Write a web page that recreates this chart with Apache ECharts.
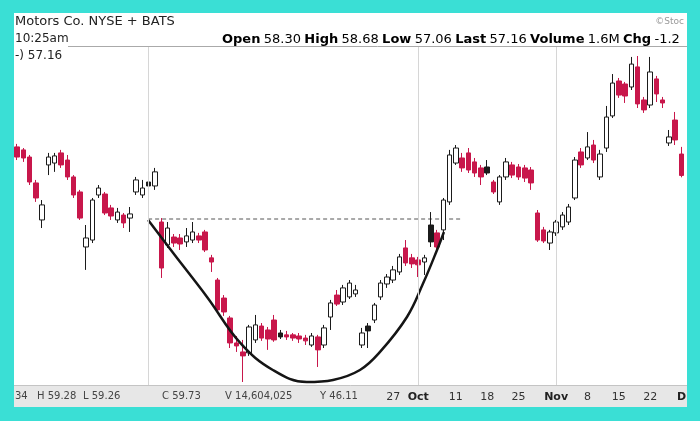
<!DOCTYPE html>
<html><head><meta charset="utf-8">
<script src="https://cdn.jsdelivr.net/npm/echarts/dist/echarts.min.js"></script>
<style>html,body{margin:0;padding:0;background:#3ADFD5;}#c{width:700px;height:421px;}</style>
</head><body><div id="c"></div>
<script>
// [open, close, low, high]
const candles = [
[58.68,58.14,57.98,58.84],[58.52,58.09,57.88,58.62],[58.14,56.81,56.65,58.25],[56.76,55.96,55.75,56.92],
[54.79,55.59,54.36,55.85],[57.72,58.14,57.18,58.36],[57.82,58.20,57.35,58.36],[58.36,57.72,57.56,58.52],
[57.98,57.08,56.92,58.25],[57.08,56.12,55.96,57.18],[56.28,54.89,54.79,56.39],[53.35,53.83,52.13,54.52],
[53.72,55.85,53.56,55.96],[56.12,56.49,55.96,56.65],[56.17,55.16,55.05,56.28],[55.43,55.00,54.79,55.59],
[54.79,55.21,54.63,55.43],[55.05,54.63,54.36,55.16],[54.89,55.11,54.15,55.48],[56.28,56.92,56.12,57.08],
[56.12,56.49,55.96,56.92],[56.81,56.60,56.12,57.98],[56.60,57.35,56.39,57.56],[54.68,52.23,51.70,54.89],
[53.46,54.36,53.30,54.68],[53.88,53.56,53.35,54.04],[53.83,53.51,53.19,54.04],[53.62,53.94,53.35,54.36],
[53.72,54.15,53.56,54.68],[53.94,53.72,53.56,54.10],[54.15,53.19,53.08,54.26],[52.77,52.55,52.02,52.93],
[51.59,50.00,49.89,51.70],[50.63,49.89,49.68,50.79],[49.57,48.24,47.97,49.68],[48.24,48.08,47.76,48.61],
[47.76,47.55,46.16,48.40],[47.71,49.09,47.55,49.20],[48.40,49.20,48.24,49.73],[49.14,48.50,48.35,49.30],
[48.93,48.45,47.87,49.09],[49.46,48.40,48.30,49.73],[48.77,48.56,48.45,48.93],[48.67,48.56,48.40,48.88],
[48.67,48.50,48.35,48.77],[48.61,48.45,48.24,48.77],[48.50,48.35,48.13,48.67],[48.13,48.61,48.03,48.77],
[48.56,47.87,46.96,48.67],[48.13,49.04,47.97,49.20],[49.62,50.37,48.93,50.53],[50.79,50.31,50.21,51.06],
[50.42,51.17,50.26,51.33],[50.69,51.43,50.58,51.59],[50.85,51.06,50.69,51.33],[48.13,48.77,47.97,49.04],
[49.14,48.88,47.97,49.30],[49.46,50.26,49.30,50.37],[50.69,51.43,50.53,51.59],[51.38,51.75,51.17,51.91],
[51.59,52.13,51.43,52.34],[52.02,52.82,51.86,52.98],[53.30,52.50,52.34,53.72],[52.77,52.45,52.23,52.98],
[52.66,52.40,51.75,52.82],[52.55,52.77,51.86,52.93],[54.52,53.62,53.35,55.21],[54.10,53.35,53.19,54.26],
[54.26,55.85,53.72,55.96],[55.75,58.25,55.59,58.52],[57.82,58.62,57.72,58.78],[58.09,57.56,57.35,58.36],
[58.36,57.45,57.29,58.62],[57.88,57.29,57.08,58.09],[57.56,57.08,56.65,57.72],[57.61,57.29,57.18,57.98],
[56.81,56.28,56.17,56.92],[55.75,57.08,55.59,57.18],[57.08,57.88,56.92,58.09],[57.72,57.18,57.02,57.88],
[57.61,57.08,56.92,57.77],[57.56,57.02,56.81,57.72],[57.45,56.76,56.39,57.61],[55.16,53.72,53.62,55.32],
[54.26,53.67,53.56,54.42],[53.56,54.15,53.19,54.26],[54.10,54.68,53.94,54.79],[54.42,55.05,54.26,55.21],
[54.68,55.48,54.52,55.64],[55.96,57.98,55.85,58.14],[58.41,57.72,57.56,58.62],[58.09,58.68,57.98,59.47],
[58.78,57.98,57.82,59.05],[57.08,58.30,56.92,58.52],[58.62,60.27,58.41,60.86],[60.33,62.08,60.22,62.56],
[62.19,61.44,61.29,62.35],[62.03,61.39,61.02,62.14],[61.87,63.09,61.71,63.47],[62.94,60.97,60.75,63.52],
[61.18,60.65,60.49,61.34],[60.91,62.67,60.75,63.47],[62.30,61.50,61.07,62.46],[61.18,61.02,60.75,61.34],
[58.89,59.21,58.73,59.58],[60.11,59.05,58.78,60.54],[58.30,57.16,57.06,58.68]
];
const categories = candles.map((d, i) => String(i));
const tickLabels = [[60,'27'],[64,'Oct'],[70,'11'],[75,'18'],[80,'25'],[86,'Nov'],[91,'8'],[96,'15'],[101,'22'],[106,'D']];
const monthLines = [21, 64, 86];
// cup annotation: [candle position, price]
const cupCurve = [[20.9,54.79],[24.9,53.03],[30.3,50.69],[35.6,48.24],[40.8,46.80],[46.2,46.16],[50.4,46.27],[54.7,46.80],[57.9,47.76],[62.2,49.62],[64.8,51.43],[67.0,53.19],[68.1,54.15]];
const resistance = [[20.9,54.84],[71.1,54.84]];
const headerTitle = 'Motors Co. NYSE + BATS';
const headerTime = '10:25am';
const headerQuote = [['Open','58.30'],['High','58.68'],['Low','57.06'],['Last','57.16'],['Volume','1.6M'],['Chg','-1.2']];
const legendText = '-) 57.16';
const readout = [['','34'],['H','59.28'],['L','59.26'],['C','59.73'],['V','14,604,025'],['Y','46.11']];

const RED = '#C8174B', BLK = '#1b1b1b';
const FONT = 'DejaVu Sans';
const labelMap = new Map(tickLabels);
const candleData = candles.map((d, i) => {
  const prev = i > 0 ? candles[i - 1][1] : d[0];
  const hollow = d[1] >= d[0];
  // hollow candles drawn black; filled candles red unless close beat the previous close
  const col = (hollow || d[1] > prev) ? BLK : RED;
  return { value: d, itemStyle: { color: hollow ? '#ffffff' : col, color0: hollow ? '#ffffff' : col, borderColor: col, borderColor0: col, borderWidth: 1 } };
});
const N = candles.length;

const quoteRich = { l: { fontWeight: 'bold', color: '#111', fontSize: 13, fontFamily: FONT }, v: { color: '#777', fontSize: 13, fontFamily: FONT } };
const quoteText = headerQuote.map(([k, v]) => '{l|' + k + '} {v|' + v + '}').join(' ');
const readoutX = [15, 37, 83, 162, 225, 320];
const readoutEls = readout.map(([k, v], i) => ({
  type: 'text', left: readoutX[i], top: 391, z: 100,
  style: { text: (k ? k + ' ' : '') + v, fill: '#444', font: '10px "' + FONT + '"' }
}));

const chart = echarts.init(document.getElementById('c'));
chart.setOption({
  backgroundColor: '#3ADFD5',
  animation: false,
  grid: { left: 14, right: 15.4, top: 47, bottom: 36 },
  xAxis: [
    { type: 'category', data: categories, boundaryGap: true,
      axisLine: { show: false }, axisTick: { show: false }, splitLine: { show: false },
      axisLabel: {
        margin: 7,
        interval: (i) => labelMap.has(i),
        formatter: (v, i) => { const t = labelMap.get(i) || ''; return isNaN(+t) ? '{b|' + t + '}' : '{n|' + t + '}'; },
        rich: { b: { fontWeight: 'bold', fontSize: 11, color: '#222', fontFamily: FONT }, n: { fontSize: 11, color: '#333', fontFamily: FONT } }
      } },
    { type: 'value', min: -0.5, max: N - 0.5, show: false }
  ],
  yAxis: { type: 'value', min: 46, max: 64, show: false, splitLine: { show: false } },
  series: [
    { type: 'line', xAxisIndex: 1, data: resistance, symbol: 'none', z: 1,
      lineStyle: { color: '#555', width: 1, type: [4, 3] },
      markLine: { silent: true, symbol: ['none', 'none'], label: { show: false },
        lineStyle: { color: '#d6d6d6', width: 1, type: 'solid' },
        data: monthLines.map(i => ({ xAxis: i })) } },
    { type: 'candlestick', data: candleData, barWidth: 5, z: 3 },
    { type: 'line', xAxisIndex: 1, data: cupCurve, smooth: 0.4, symbol: 'none', z: 4,
      lineStyle: { color: '#151515', width: 2.5 } }
  ],
  graphic: [
    { type: 'rect', z: -20, shape: { x: 14, y: 13, width: 673, height: 394 }, style: { fill: '#ffffff' } },
    { type: 'rect', z: -10, shape: { x: 14, y: 385, width: 673, height: 22 }, style: { fill: '#e7e7e7' } },
    { type: 'line', z: -9, shape: { x1: 14, y1: 385.5, x2: 687, y2: 385.5 }, style: { stroke: '#c4c4c4', lineWidth: 1 } },
    { type: 'line', z: -9, shape: { x1: 68, y1: 46.5, x2: 687, y2: 46.5 }, style: { stroke: '#aaaaaa', lineWidth: 1 } },
    { type: 'text', left: 15, top: 15, z: 100, style: { text: headerTitle, fill: '#222', font: '13px "' + FONT + '"' } },
    { type: 'text', left: 15, top: 33, z: 100, style: { text: headerTime, fill: '#222', font: '12px "' + FONT + '"' } },
    { type: 'text', left: 15, top: 50, z: 100, style: { text: legendText, fill: '#222', font: '12px "' + FONT + '"' } },
    { type: 'text', left: 222, top: 33, z: 100, style: { text: quoteText, rich: quoteRich } },
    { type: 'text', right: 16, top: 17, z: 100, style: { text: '©Stoc', fill: '#999', font: '9px "' + FONT + '"' } }
  ].concat(readoutEls)
});
</script>
</body></html>
